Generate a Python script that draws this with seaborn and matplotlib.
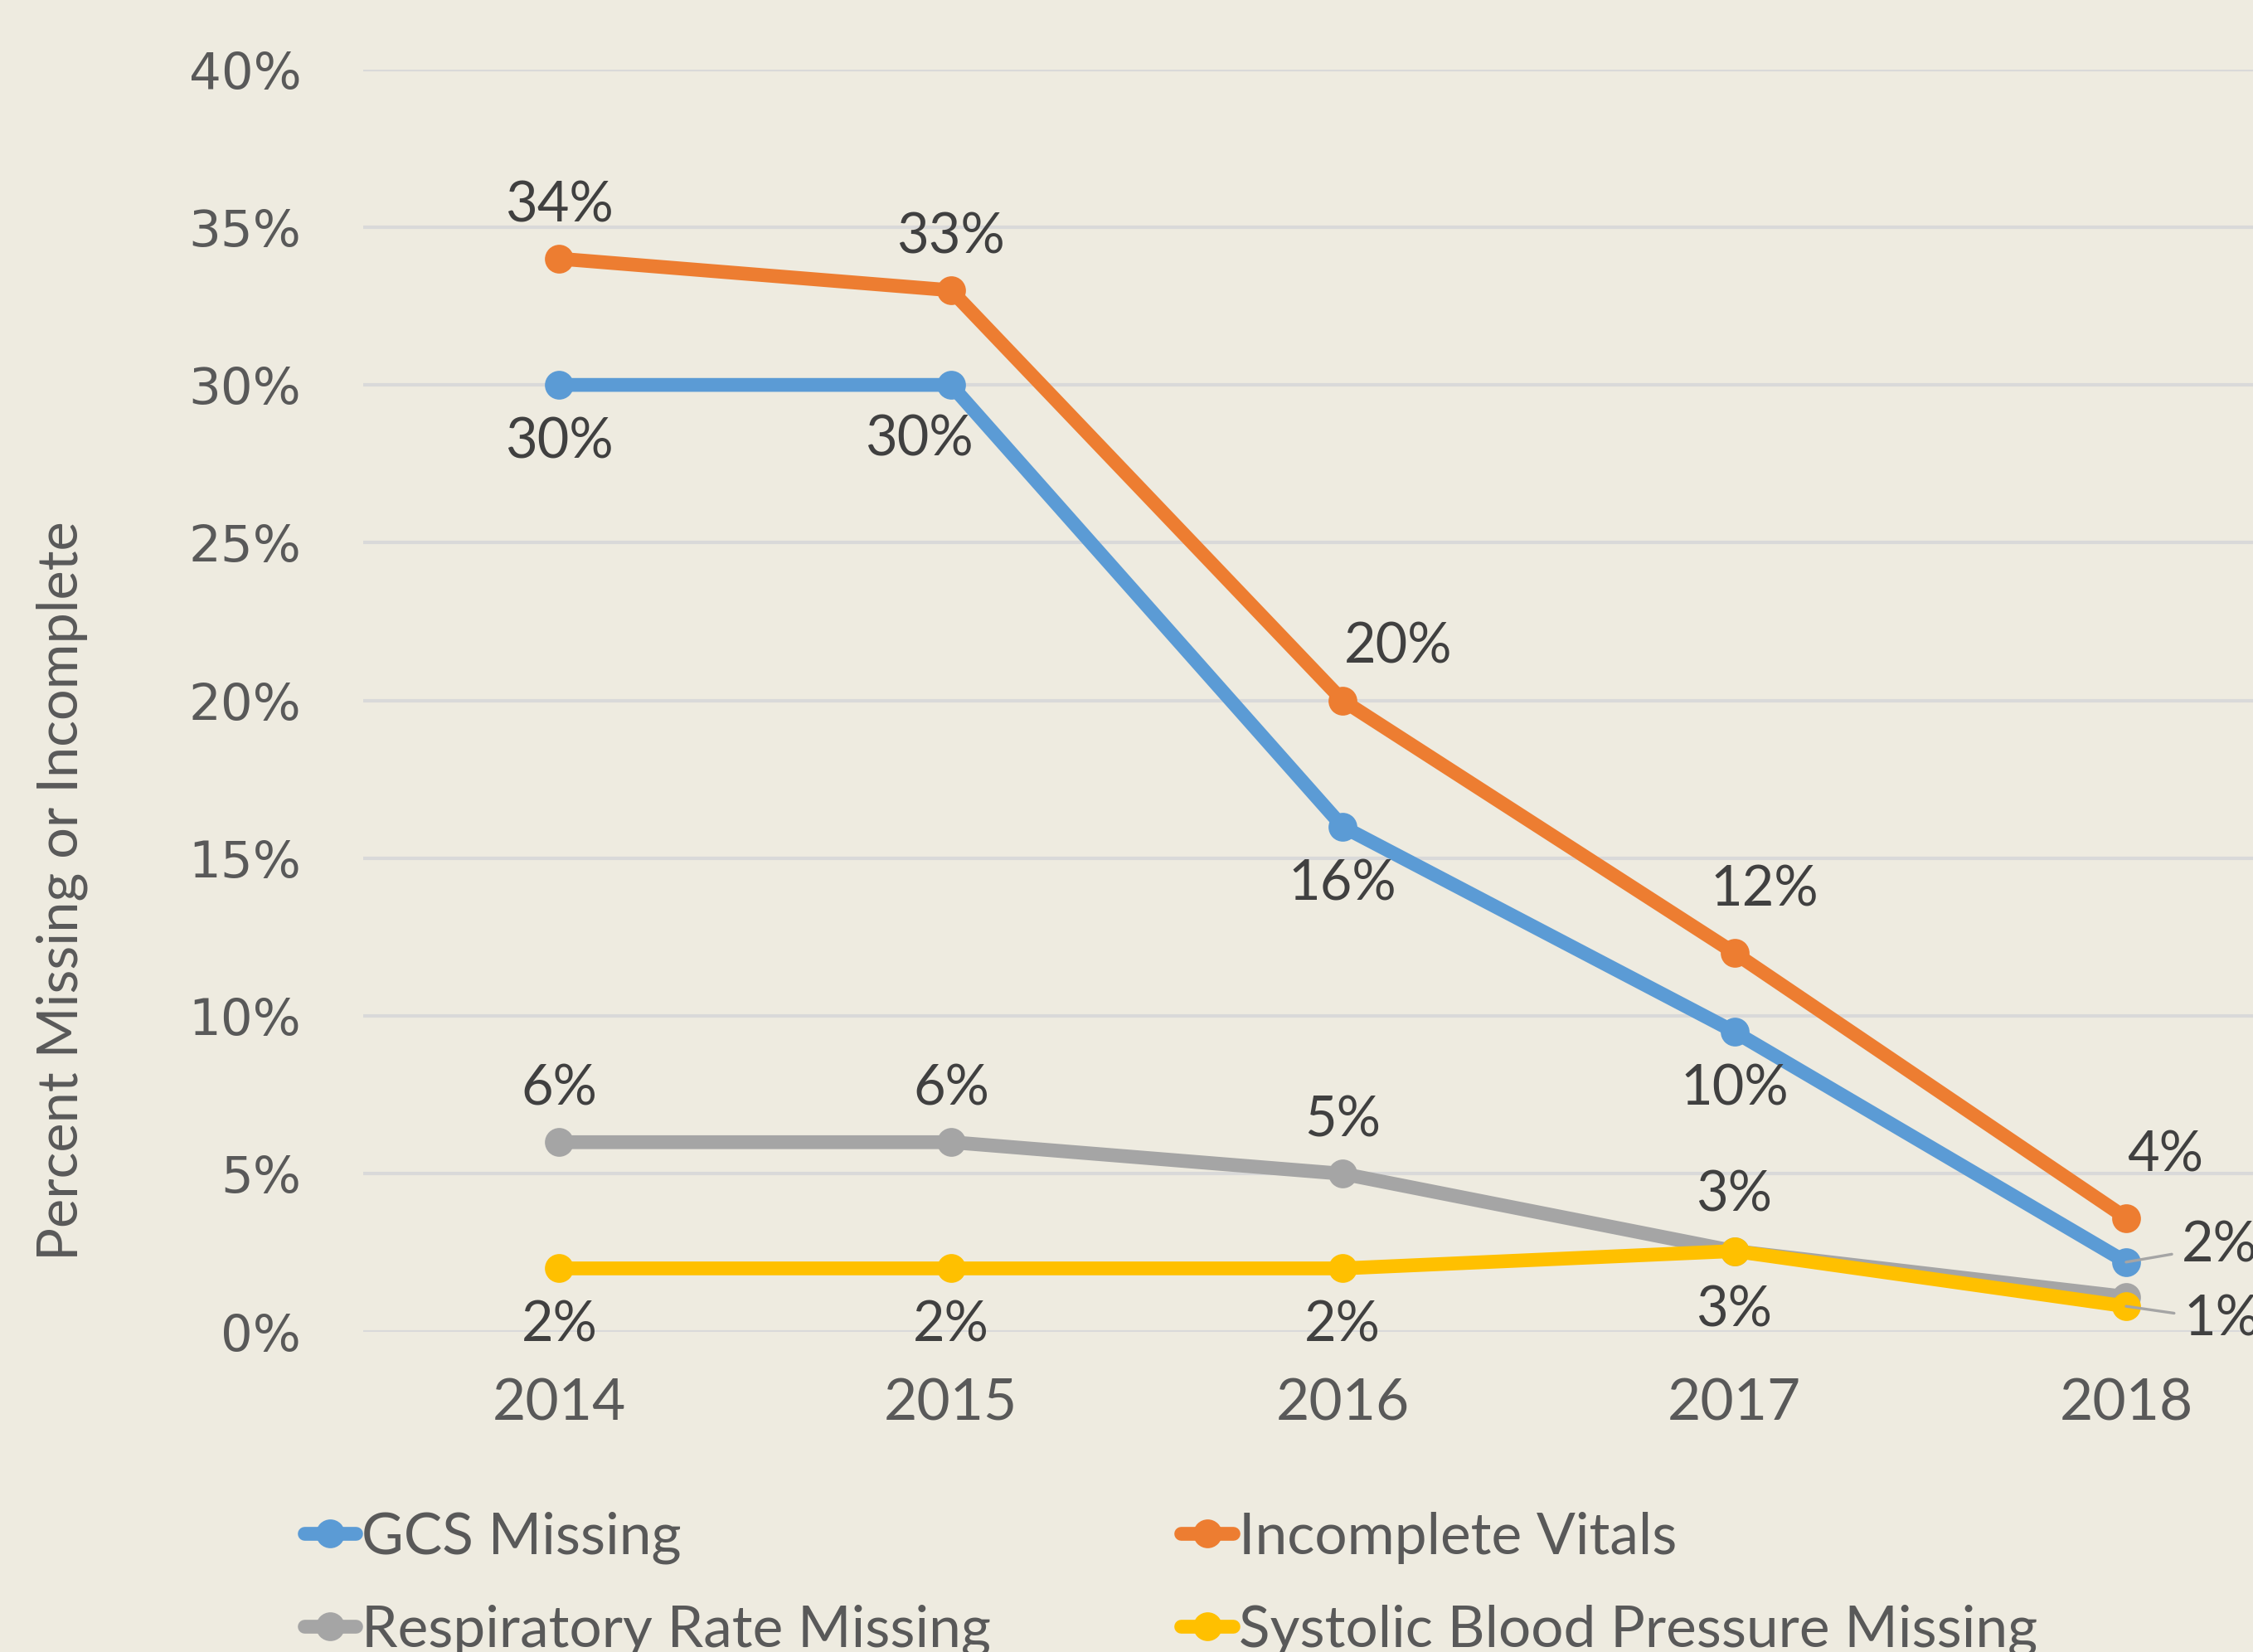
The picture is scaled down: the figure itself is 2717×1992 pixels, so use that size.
import numpy as np
import pandas as pd
import seaborn as sns
import matplotlib.pyplot as plt
from matplotlib.ticker import FuncFormatter

# data (percent)
years = ['2014', '2015', '2016', '2017', '2018']
gcs_missing = [30, 30, 16, 9.5, 2.2]
incomplete_vitals = [34, 33, 20, 12, 3.6]
resp_rate_missing = [6, 6, 5, 2.55, 1.1]
sbp_missing = [2, 2, 2, 2.55, 0.8]

series_names = ['GCS Missing', 'Incomplete Vitals', 'Respiratory Rate Missing',
                'Systolic Blood Pressure Missing']
series_values = [gcs_missing, incomplete_vitals, resp_rate_missing, sbp_missing]
colors = ['#5B9BD5', '#ED7D31', '#A5A5A5', '#FFC000']

# label offsets in points (dx, dy, ha) for each point; None = no label
lab_off = {
    'GCS Missing': [(0, -25, 'center'), (-14, -24, 'center'), (0, -25, 'center'),
                    (0, -25, 'center'), (24, 7, 'left')],
    'Incomplete Vitals': [(0, 23, 'center'), (0, 23, 'center'), (24, 23, 'center'),
                          (13, 27, 'center'), (17, 27, 'center')],
    'Respiratory Rate Missing': [(0, 23, 'center'), (0, 23, 'center'), (0, 23, 'center'),
                                 (0, 24, 'center'), None],
    'Systolic Blood Pressure Missing': [(0, -25, 'center'), (0, -25, 'center'), (0, -25, 'center'),
                                        (0, -26, 'center'), (25, -6, 'left')],
}
leader = {('GCS Missing', 4), ('Systolic Blood Pressure Missing', 4)}

bg = '#EEEBE0'
lab_font = 'Lato'

rows = []
for name, vals in zip(series_names, series_values):
    for y, v in zip(years, vals):
        rows.append({'year': y, 'value': v, 'series': name})
df = pd.DataFrame(rows)

sns.set_style('white')
plt.rcParams['font.family'] = ['Lato', 'DejaVu Sans']

fig = plt.figure(figsize=(2717 / 200, 1992 / 200), dpi=200, facecolor=bg)
ax = fig.add_axes([0.1613, 0.194, 0.8693, 0.764])
ax.set_facecolor(bg)

for name, col in zip(series_names, colors):
    sub = df[df['series'] == name]
    sns.lineplot(data=sub, x='year', y='value', ax=ax, color=col, label=name,
                 linewidth=6, marker='o', markersize=12.5, markeredgewidth=0,
                 sort=False, solid_capstyle='round')

# data labels
for name, vals in zip(series_names, series_values):
    for i, v in enumerate(vals):
        off = lab_off[name][i]
        if off is None:
            continue
        dx, dy, ha = off
        kw = {}
        if (name, i) in leader:
            kw['arrowprops'] = dict(arrowstyle='-', color='#A5A5A5', lw=1.2,
                                    shrinkA=2, shrinkB=0)
        ax.annotate(f'{int(v + 0.5)}%', (i, v), xytext=(dx, dy), textcoords='offset points',
                    ha=ha, va='center', fontsize=24, color='#404040',
                    family=lab_font, **kw)

ax.set_xlim(-0.5, 4.5)
ax.set_ylim(0, 40)
ax.set_yticks(np.arange(0, 41, 5))
ax.yaxis.set_major_formatter(FuncFormatter(lambda v, p: f'{v:.0f}%'))
ax.grid(axis='y', color='#D9D9D9', linewidth=1.5)
ax.grid(axis='x', visible=False)
ax.set_axisbelow(True)
for s in ax.spines.values():
    s.set_visible(False)
ax.tick_params(axis='y', length=0, pad=27, labelsize=22, labelcolor='#595959')
ax.tick_params(axis='x', length=0, pad=20, labelsize=25, labelcolor='#595959')
for t in ax.get_yticklabels():
    t.set_family('DejaVu Sans')
for t in ax.get_xticklabels():
    t.set_family(lab_font)
ax.set_xlabel('')
ax.set_ylabel('')

fig.text(0.0276, 0.461, 'Percent Missing or Incomplete', rotation=90, ha='center',
         va='center', fontsize=24, color='#595959', family=lab_font)

handles, labels = ax.get_legend_handles_labels()
ax.get_legend().remove()
order = [0, 2, 1, 3]  # row-wise fill like the original
fig.legend([handles[i] for i in order], [labels[i] for i in order],
           loc='upper left', bbox_to_anchor=(0.135, 0.085), ncol=2,
           frameon=False, handlelength=0.9, handletextpad=0.1,
           columnspacing=3.3, labelspacing=0.7, borderpad=0, borderaxespad=0,
           labelcolor='#595959', prop={'family': lab_font, 'size': 25})

fig.savefig('out.png', dpi=200, facecolor=bg)
